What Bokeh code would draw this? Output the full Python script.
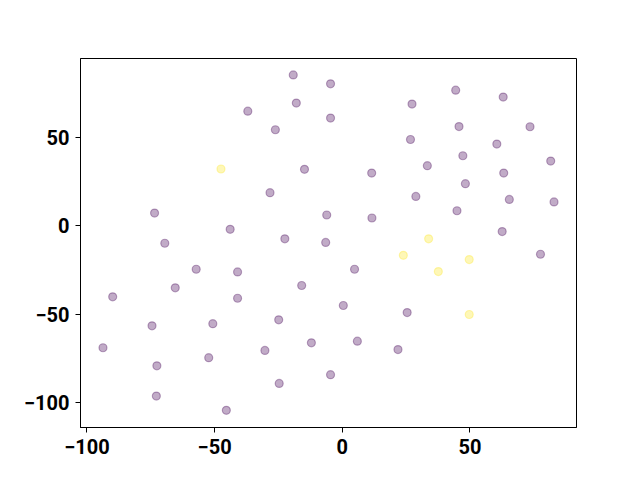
from bokeh.plotting import figure
from bokeh.models import FixedTicker, CustomJSTickFormatter, Range1d
from bokeh.embed import file_html
from bokeh.resources import INLINE

# purple class (label 0)
x_purple = [-19.2, -4.6, -18.0, -37.0, -26.2, -4.6, -14.8, -28.3, -73.5, -6.1,
            -43.9, -69.5, -22.5, -6.5, 44.4, 27.3, 63.0, 45.7, 73.5, 26.7,
            60.5, 47.2, 33.3, 11.5, 81.6, 63.2, 48.2, 28.8, 65.4, 82.9,
            44.9, 11.6, 62.6, -57.2, -41.0, -65.4, -89.9, -41.0, -15.9, -74.5,
            -50.7, -24.9, -93.7, -30.3, -12.1, -72.6, -52.3, -4.6, -24.7, -72.8,
            -45.4, 77.6, 4.8, 0.4, 25.4, 5.9, 21.8]
y_purple = [85.4, 80.4, 69.5, 64.9, 54.4, 61.0, 32.0, 18.8, 7.3, 6.2,
            -1.9, -9.8, -7.3, -9.3, 76.8, 68.9, 72.9, 56.2, 56.1, 48.9,
            46.3, 39.7, 34.1, 29.9, 36.7, 29.9, 23.9, 16.7, 15.0, 13.6,
            8.6, 4.5, -3.2, -24.5, -26.0, -35.0, -40.1, -40.9, -33.7, -56.5,
            -55.3, -53.1, -68.9, -70.4, -66.1, -79.1, -74.5, -84.1, -89.1, -96.2,
            -104.3, -16.0, -24.5, -45.0, -49.0, -65.2, -69.9]

# yellow class (label 1)
x_yellow = [-47.5, 33.8, 23.9, 49.7, 37.6, 49.7]
y_yellow = [32.2, -7.3, -16.6, -19.0, -25.8, -50.1]

x_ticks = [-100, -50, 0, 50]
y_ticks = [-100, -50, 0, 50]

p = figure(width=632, height=472, output_backend="svg", toolbar_location=None,
           x_range=Range1d(-102.5, 91.7), y_range=Range1d(-114.0, 94.7),
           min_border_left=80, min_border_right=56, min_border_top=58, min_border_bottom=45)

p.scatter(x_purple, y_purple, size=8, marker="circle",
          fill_color="#440154", line_color="#440154", fill_alpha=0.33, line_alpha=0.33, line_width=1.2)
p.scatter(x_yellow, y_yellow, size=8, marker="circle",
          fill_color="#fde725", line_color="#fde725", fill_alpha=0.33, line_alpha=0.33, line_width=1.2)

p.xgrid.visible = False
p.ygrid.visible = False
p.outline_line_color = "black"
p.outline_line_width = 1
p.outline_line_alpha = 1
p.background_fill_color = "white"
p.border_fill_color = "white"

fmt = CustomJSTickFormatter(code="return String(tick).replace('-', '\u2212');")
for ax, ticks in ((p.xaxis, x_ticks), (p.yaxis, y_ticks)):
    ax.ticker = FixedTicker(ticks=ticks)
    ax.formatter = fmt
    ax.minor_tick_line_color = None
    ax.major_tick_in = 0
    ax.major_tick_out = 5
    ax.major_tick_line_color = "black"
    ax.axis_line_color = "black"
    ax.major_label_text_font = "Roboto"
    ax.major_label_text_font_style = "bold"
    ax.major_label_text_font_size = "20px"
    ax.major_label_text_color = "black"
    ax.major_label_standoff = 6

open("out.html", "w").write(file_html(p, INLINE))
